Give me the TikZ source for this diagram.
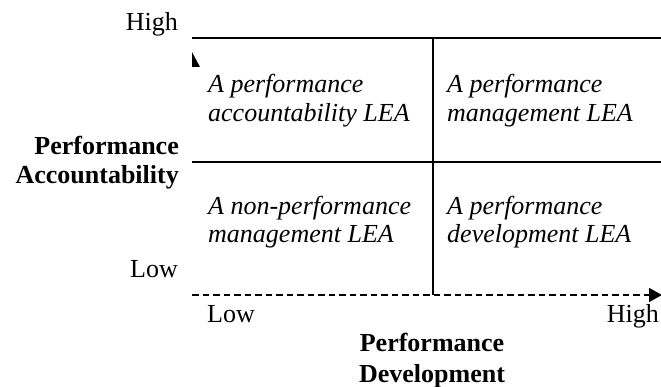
\documentclass[tikz,border=0pt]{standalone}
\usepackage{fontspec}
\setmainfont{Liberation Serif}
\usetikzlibrary{arrows.meta}
\begin{document}
\begin{tikzpicture}[x=1pt,y=-1pt,
  lbl/.style={inner sep=0pt,font=\fontsize{26}{30}\selectfont},
  quad/.style={lbl,anchor=base west,font=\fontsize{26}{30}\selectfont\itshape},
  axisttl/.style={lbl,font=\fontsize{26}{30}\selectfont\bfseries},
  gridline/.style={line width=2pt},
  dashaxis/.style={line width=1.6pt,dash pattern=on 6.5pt off 4pt,-{Triangle[length=13pt,width=14pt]}}]
\useasboundingbox (0,0) rectangle (661,387);
% coordinates
\coordinate (TL) at (192,38);
\coordinate (TR) at (661,38);
\coordinate (ML) at (192,162);
\coordinate (MR) at (661,162);
\coordinate (VT) at (433,38);
\coordinate (VB) at (433,295);
\coordinate (DL) at (192,295);
\coordinate (DR) at (662,295);
% grid
\draw[gridline] (TL) -- (TR);
\draw[gridline] (ML) -- (MR);
\draw[gridline] (VT) -- (VB);
\draw[dashaxis] (DL) -- (DR);
% partial vertical arrow tip
\fill (192,52) -- (200,67) -- (192,67) -- cycle;
% left axis labels
\node[lbl,anchor=base east] (yhigh) at (178,31) {High};
\node[axisttl,anchor=base east] (yt1) at (179,155) {Performance};
\node[axisttl,anchor=base east] (yt2) at (179,184) {Accountability};
\node[lbl,anchor=base east] (ylow) at (178,278) {Low};
% bottom axis labels
\node[lbl,anchor=base west] (xlow) at (207,322) {Low};
\node[lbl,anchor=base east] (xhigh) at (659,322) {High};
\node[axisttl,anchor=base] (xt1) at (432,351) {Performance};
\node[axisttl,anchor=base] (xt2) at (432,382) {Development};
% quadrants
\node[quad] (q1a) at (208,93) {A performance};
\node[quad] (q1b) at (208,122) {accountability LEA};
\node[quad] (q2a) at (447,93) {A performance};
\node[quad] (q2b) at (447,122) {management LEA};
\node[quad] (q3a) at (208,215) {A non-performance};
\node[quad] (q3b) at (208,243) {management LEA};
\node[quad] (q4a) at (447,215) {A performance};
\node[quad] (q4b) at (447,243) {development LEA};
\end{tikzpicture}
\end{document}
